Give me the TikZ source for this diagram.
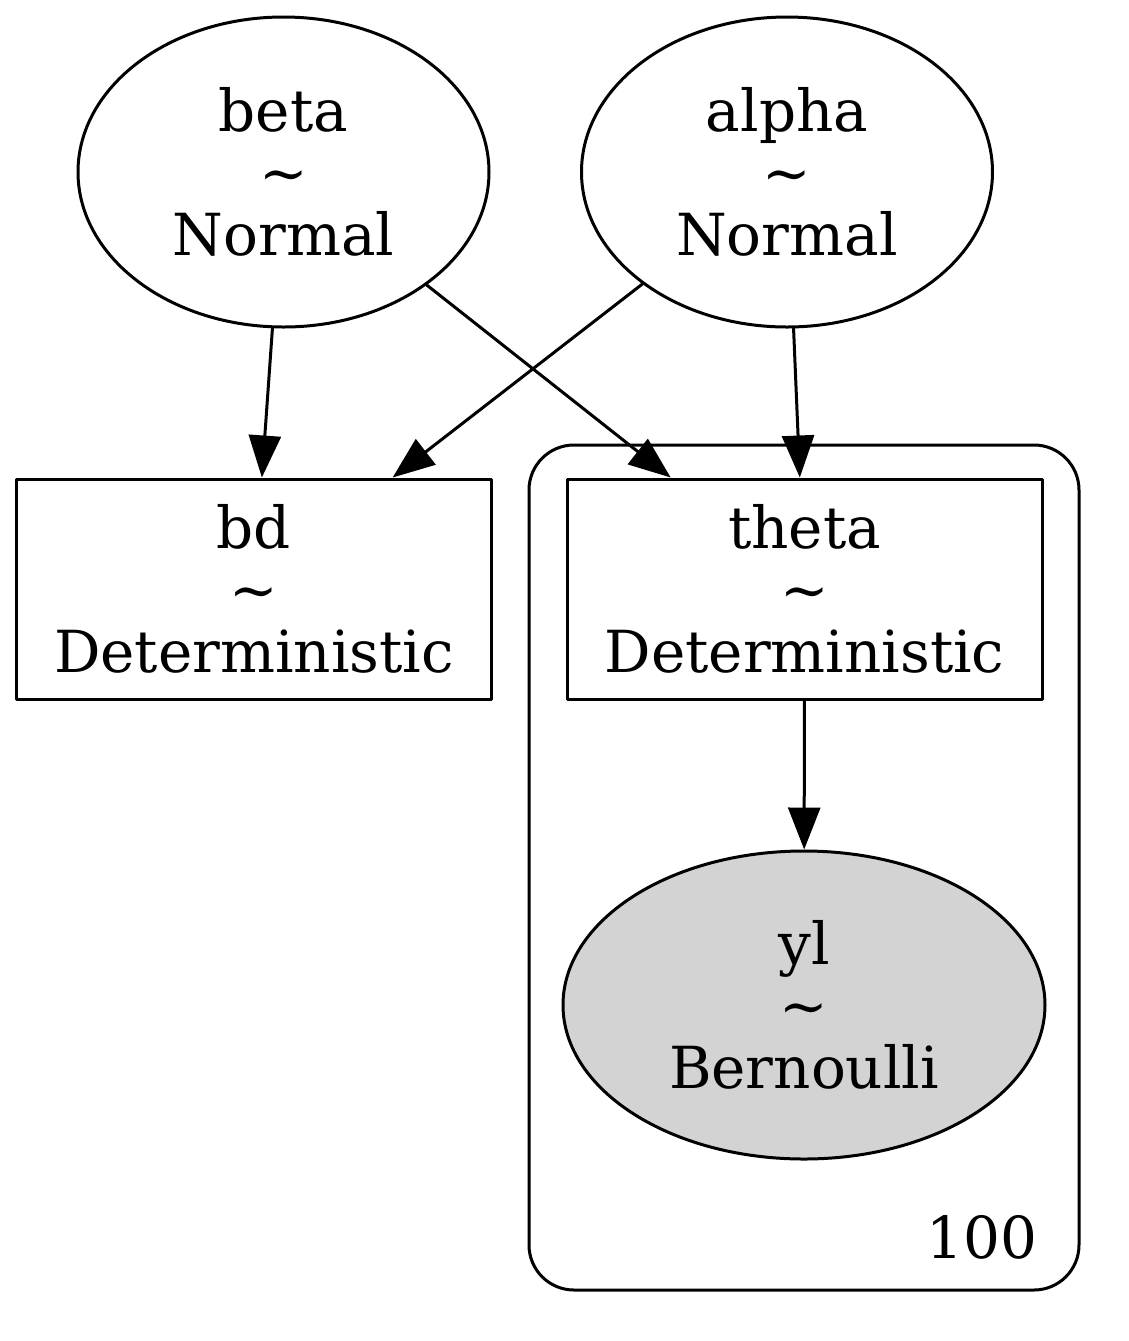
\documentclass[tikz,border=0pt]{standalone}
\usepackage{fontspec}
\setmainfont{DejaVu Serif}
\usetikzlibrary{arrows.meta,shapes.geometric,calc}
\definecolor{obsgray}{RGB}{211,211,211}

\begin{document}
\begin{tikzpicture}[line cap=round,line join=round,>={Triangle[length=21pt,width=16pt]},x=0.5pt,y=-0.5pt,
  every node/.style={font=\fontsize{29}{31}\selectfont,align=center,inner sep=0pt},
  rv/.style={draw,ellipse,line width=1.5pt,minimum width=205.5pt,minimum height=155pt},
  det/.style={draw,rectangle,line width=1.5pt,minimum width=237.5pt,minimum height=110pt},
  plate/.style={draw,rectangle,rounded corners=22.5pt,line width=1.5pt},
  edge/.style={->,line width=1.5pt}]
\useasboundingbox (0,0) rectangle (1129,1341);
\node[plate,minimum width=275pt,minimum height=422.5pt] (rep) at (804,867.5) {};
\node[anchor=base east] (repcount) at (1038,1258) {100};
\node[rv] (beta) at (283.5,172) {beta\\\textasciitilde\\Normal};
\node[rv] (alpha) at (787,172) {alpha\\\textasciitilde\\Normal};
\node[det] (bd) at (254,589) {bd\\\textasciitilde\\Deterministic};
\node[det] (theta) at (804.5,589) {theta\\\textasciitilde\\Deterministic};
\node[rv,fill=obsgray,minimum width=241pt,minimum height=154pt] (yl) at (804,1005) {yl\\\textasciitilde\\Bernoulli};
\draw[edge] (beta) -- (bd);
\draw[edge] (beta) -- ($(theta.north west)!0.22!(theta.north east)$);
\draw[edge] (alpha) -- ($(bd.north west)!0.79!(bd.north east)$);
\draw[edge] (alpha) -- (theta);
\draw[edge] (theta) -- (yl);
\end{tikzpicture}
\end{document}
